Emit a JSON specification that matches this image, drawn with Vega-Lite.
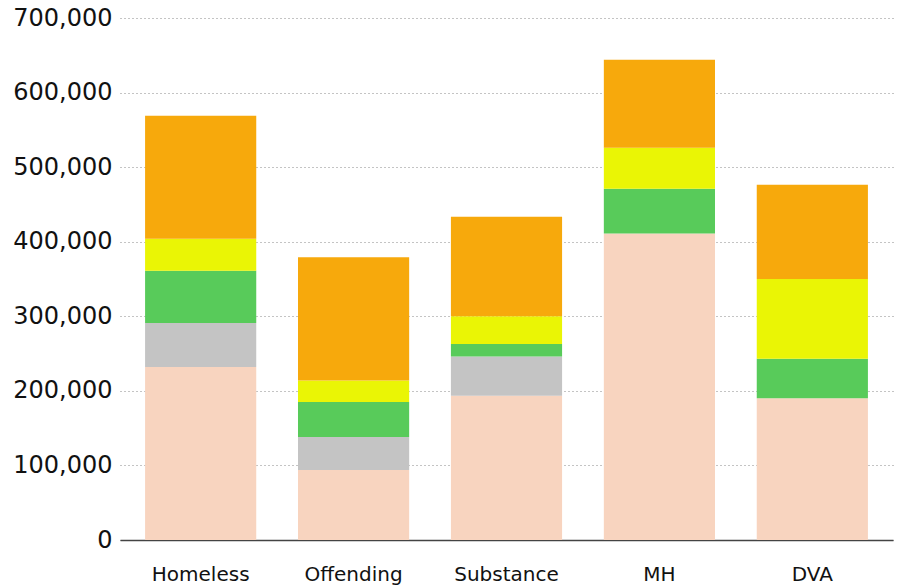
{
  "$schema": "https://vega.github.io/schema/vega-lite/v6.json",
  "width": 773,
  "height": 522,
  "autosize": {"type": "none"},
  "padding": {"left": 120, "top": 18, "right": 9, "bottom": 48},
  "background": "white",
  "data": {"values": [
    {"cat": "Homeless", "seg": "A", "ord": 1, "v": 232000},
    {"cat": "Homeless", "seg": "B", "ord": 2, "v": 59000},
    {"cat": "Homeless", "seg": "C", "ord": 3, "v": 70000},
    {"cat": "Homeless", "seg": "D", "ord": 4, "v": 43000},
    {"cat": "Homeless", "seg": "E", "ord": 5, "v": 165000},
    {"cat": "Offending", "seg": "A", "ord": 1, "v": 94000},
    {"cat": "Offending", "seg": "B", "ord": 2, "v": 44000},
    {"cat": "Offending", "seg": "C", "ord": 3, "v": 47000},
    {"cat": "Offending", "seg": "D", "ord": 4, "v": 29000},
    {"cat": "Offending", "seg": "E", "ord": 5, "v": 165000},
    {"cat": "Substance", "seg": "A", "ord": 1, "v": 193500},
    {"cat": "Substance", "seg": "B", "ord": 2, "v": 52500},
    {"cat": "Substance", "seg": "C", "ord": 3, "v": 17000},
    {"cat": "Substance", "seg": "D", "ord": 4, "v": 37000},
    {"cat": "Substance", "seg": "E", "ord": 5, "v": 133500},
    {"cat": "MH", "seg": "A", "ord": 1, "v": 411000},
    {"cat": "MH", "seg": "B", "ord": 2, "v": 0},
    {"cat": "MH", "seg": "C", "ord": 3, "v": 60000},
    {"cat": "MH", "seg": "D", "ord": 4, "v": 55000},
    {"cat": "MH", "seg": "E", "ord": 5, "v": 118000},
    {"cat": "DVA", "seg": "A", "ord": 1, "v": 190000},
    {"cat": "DVA", "seg": "B", "ord": 2, "v": 0},
    {"cat": "DVA", "seg": "C", "ord": 3, "v": 53000},
    {"cat": "DVA", "seg": "D", "ord": 4, "v": 107000},
    {"cat": "DVA", "seg": "E", "ord": 5, "v": 126500}
  ]},
  "mark": {"type": "bar"},
  "encoding": {
    "x": {
      "field": "cat", "type": "nominal", "sort": null,
      "scale": {"paddingInner": 0.273, "paddingOuter": 0.164},
      "axis": {
        "title": null, "labelAngle": 0, "ticks": false,
        "domainColor": "#444", "domainWidth": 1.5,
        "labelFont": "DejaVu Sans", "labelFontSize": 20, "labelColor": "#111",
        "labelPadding": 24, "grid": false
      }
    },
    "y": {
      "field": "v", "type": "quantitative", "stack": "zero",
      "scale": {"domain": [0, 700000], "nice": false},
      "axis": {
        "title": null, "ticks": false, "domain": false,
        "values": [0, 100000, 200000, 300000, 400000, 500000, 600000, 700000],
        "format": ",d",
        "labelFont": "DejaVu Sans", "labelFontSize": 24, "labelColor": "#111",
        "labelPadding": 8,
        "gridColor": "#888", "gridDash": [1, 3], "gridWidth": 1
      }
    },
    "color": {
      "field": "seg", "type": "nominal", "legend": null,
      "scale": {"domain": ["A", "B", "C", "D", "E"],
                "range": ["#F8D4BF", "#C4C4C4", "#58CB5A", "#EAF505", "#F7A90C"]}
    },
    "order": {"field": "ord", "type": "quantitative"}
  },
  "config": {"view": {"stroke": null}}
}
